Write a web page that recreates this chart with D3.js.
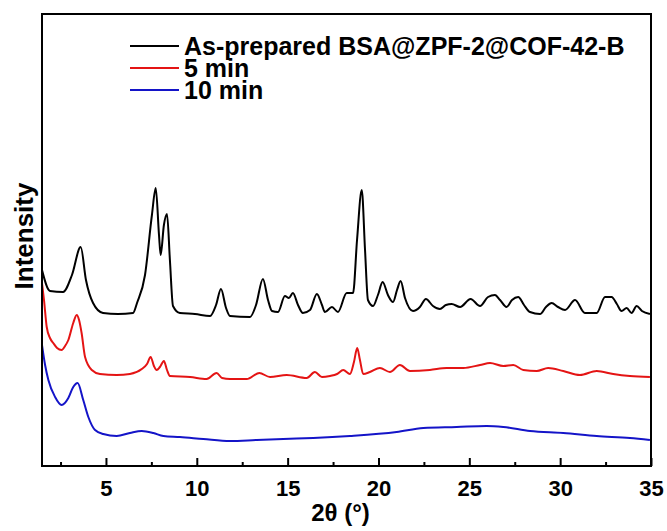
<!DOCTYPE html>
<html>
<head>
<meta charset="utf-8">
<script src="https://cdn.jsdelivr.net/npm/d3@7"></script>
<style>
  body { margin: 0; background: #fff; }
  svg text { font-family: "Liberation Sans", Arial, sans-serif; font-weight: bold; }
</style>
</head>
<body>
<div id="chart"></div>
<script>
// size of the page
const W = 667, H = 531;
const MARGIN = { top: 14, right: 16, bottom: 65, left: 42 };
const WIDTH = W - MARGIN.left - MARGIN.right;
const HEIGHT = H - MARGIN.top - MARGIN.bottom;

// axis ticks
const X_TICKS = [5, 10, 15, 20, 25, 30, 35];
const X_MINOR = [2.5, 7.5, 12.5, 17.5, 22.5, 27.5, 32.5];

// series names and colours
const SERIES = ["As-prepared BSA@ZPF-2@COF-42-B", "5 min", "10 min"];
const COLORS = ["#000000", "#e41414", "#1414c8"];

// [2theta, intensity (arb.)]
const asPrepared = [
  [1.48,196],[1.92,175],[2.64,174],[3.13,191],[3.61,219],[3.90,186],[4.29,163],[4.84,153],
  [5.66,152],[6.49,153],[6.71,163],[7.15,191],[7.53,251],[7.74,278],[7.92,231],[8.01,211],
  [8.19,241],[8.36,252],[8.52,206],[8.69,160],[9.07,153],[9.90,152],[10.73,150],[11.06,161],
  [11.33,177],[11.61,158],[11.83,150],[12.93,149],[13.26,161],[13.64,187],[13.92,166],[14.14,155],
  [14.47,154],[14.85,170],[15.07,168],[15.29,173],[15.57,161],[15.84,153],[16.23,156],[16.61,172],
  [16.89,161],[17.05,154],[17.44,159],[17.77,154],[18.25,173],[18.60,173],[18.82,226],[19.08,276],
  [19.26,216],[19.42,166],[19.70,160],[19.97,171],[20.23,184],[20.52,171],[20.80,164],[21.02,176],
  [21.22,185],[21.46,168],[21.90,155],[22.28,159],[22.61,167],[23.00,160],[23.38,157],[23.71,161],
  [24.03,162],[24.49,159],[25.07,167],[25.59,160],[26.03,169],[26.41,171],[26.69,166],[27.05,159],
  [27.35,166],[27.69,169],[28.01,161],[28.34,154],[28.89,152],[29.22,159],[29.53,163],[29.88,159],
  [30.27,156],[30.82,166],[31.36,153],[32.01,153],[32.47,169],[32.83,169],[33.12,162],[33.38,155],
  [33.66,158],[33.93,153],[34.21,160],[34.50,155],[34.94,152]
];
const min5 = [
  [1.48,183],[1.59,166],[1.74,139],[1.92,128],[2.10,123],[2.31,118],[2.56,116],[2.75,120],
  [2.93,126],[3.20,143],[3.39,151],[3.52,146],[3.66,133],[3.85,109],[4.22,96],[4.67,92],
  [5.59,91],[6.32,92],[6.97,97],[7.26,102],[7.46,109],[7.64,100],[7.79,96],[7.97,99],
  [8.19,105],[8.36,96],[8.52,90],[9.63,89],[10.54,87],[11.09,93],[11.39,88],[11.83,87],
  [12.75,87],[13.44,93],[14.03,89],[14.95,91],[16.05,88],[16.50,94],[16.89,89],[17.33,90],
  [17.72,92],[18.06,96],[18.43,92],[18.65,104],[18.83,118],[18.98,106],[19.16,92],[19.53,94],
  [20.08,98],[20.63,94],[21.18,101],[21.73,95],[22.83,96],[23.75,98],[24.67,98],[25.59,101],
  [26.14,103],[26.87,100],[27.42,101],[27.97,96],[28.71,95],[29.34,98],[30.17,95],[31.09,91],
  [32.01,95],[32.92,92],[33.84,90],[34.94,89]
];
const min10 = [
  [1.48,121],[1.65,101],[1.83,86],[2.20,69],[2.56,61],[2.93,68],[3.20,79],[3.44,83],
  [3.75,66],[4.03,49],[4.40,36],[4.85,32],[5.59,30],[6.32,33],[6.97,35],[7.61,33],
  [8.16,30],[9.07,29],[10.36,27],[11.83,25],[13.30,26],[14.76,27],[16.41,28],[18.43,30],
  [21.00,34],[22.47,38],[24.30,39],[25.95,40],[26.87,39],[28.34,35],[30.17,33],[32.01,30],
  [33.84,28],[34.94,26]
];
const ALL = [asPrepared, min5, min10];

const svg = d3.select("#chart").append("svg")
  .attr("width", W).attr("height", H);

const g = svg.append("g")
  .attr("transform", `translate(${MARGIN.left},${MARGIN.top})`);

const xScale = d3.scaleLinear().domain([1.48, 35]).range([0, WIDTH]);
const yScale = d3.scaleLinear().domain([0, 452]).range([HEIGHT, 0]);

const line = d3.line()
  .x(d => xScale(d[0]))
  .y(d => yScale(d[1]))
  .curve(d3.curveMonotoneX);

// the curves
g.selectAll(".curve")
  .data(ALL)
  .enter()
  .append("path")
  .attr("class", "curve")
  .attr("fill", "none")
  .attr("stroke", (d, i) => COLORS[i])
  .attr("stroke-width", 2)
  .attr("stroke-linejoin", "round")
  .attr("d", line);

// minor ticks, inward
g.append("g")
  .attr("transform", `translate(0,${HEIGHT})`)
  .call(d3.axisBottom(xScale).tickValues(X_MINOR).tickSize(-4).tickFormat(""))
  .call(a => a.select(".domain").remove())
  .call(a => a.selectAll("line").attr("stroke-width", 2));

// major ticks + labels
g.append("g")
  .attr("transform", `translate(0,${HEIGHT})`)
  .call(d3.axisBottom(xScale).tickValues(X_TICKS).tickSize(-8).tickPadding(14))
  .call(a => a.select(".domain").remove())
  .call(a => a.selectAll("line").attr("stroke-width", 2))
  .call(a => a.selectAll("text").attr("font-size", 22).attr("fill", "#000")
    .style("font-family", "'Liberation Sans', Arial, sans-serif").style("font-weight", "bold"));

// frame
g.append("rect")
  .attr("width", WIDTH).attr("height", HEIGHT)
  .attr("fill", "none").attr("stroke", "#000").attr("stroke-width", 2);

// axis titles
svg.append("text")
  .attr("x", MARGIN.left + WIDTH / 2 - 6)
  .attr("y", 521)
  .attr("text-anchor", "middle")
  .attr("font-size", 24)
  .text("2θ (°)");

svg.append("text")
  .attr("transform", "translate(33,236) rotate(-90)")
  .attr("text-anchor", "middle")
  .attr("font-size", 26)
  .text("Intensity");

// legend
const legend = svg.append("g").attr("class", "legend");
const rows = legend.selectAll("g").data(SERIES).enter().append("g")
  .attr("transform", (d, i) => `translate(130,${46 + i * 22})`);
rows.append("line")
  .attr("x1", 0).attr("x2", 49)
  .attr("stroke", (d, i) => COLORS[i]).attr("stroke-width", 2);
rows.append("text")
  .attr("x", 54).attr("dy", "0.36em")
  .attr("font-size", 25)
  .text(d => d);
</script>
</body>
</html>
